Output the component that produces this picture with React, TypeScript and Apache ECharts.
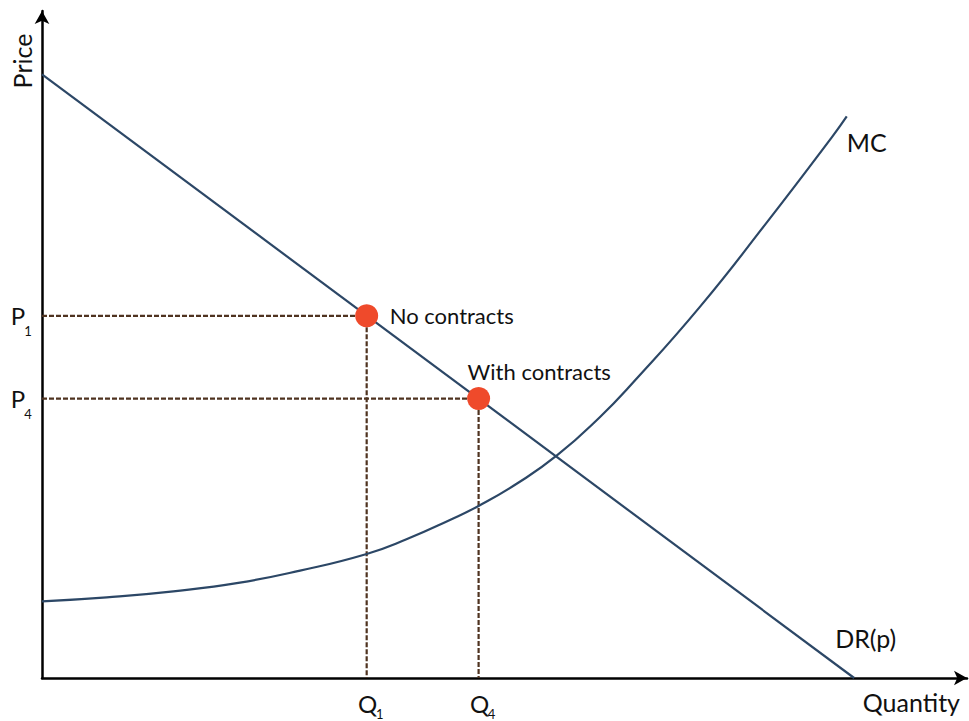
import React, { useEffect, useRef } from 'react';
import * as echarts from 'echarts';

// Axis extents (arbitrary units)
const quantityRange = [0, 100];
const priceRange = [0, 100];

// Demand curve DR(p): straight line between its two intercepts
const demandPoints: number[][] = [
  [0, 90.5],
  [87.8, 0],
];

// Marginal cost curve MC
const mcPoints: number[][] = [
  [0, 11.5], [7.0, 12.1], [14.2, 13.0], [21.4, 14.3], [27.9, 16.1],
  [35.1, 18.6], [39.4, 20.8], [44.1, 23.7], [47.2, 25.8], [51.4, 29.2],
  [55.7, 33.4], [60.3, 39.1], [63.9, 44.3], [71.1, 55.6], [78.3, 68.2],
  [85.4, 81.1], [87.0, 84.2],
];

// Market outcomes
const outcomeQuantities = [35.1, 47.2];
const outcomePrices = [54.3, 41.9];
const outcomeSubscripts = ['1', '4'];
const outcomeNames = ['No contracts', 'With contracts'];

const FONT = "Lato, 'Open Sans', sans-serif";
const CURVE_COLOR = '#2c4766';
const GUIDE_COLOR = '#4f3320';
const POINT_COLOR = '#ef4a2b';

export default function App() {
  const ref = useRef<HTMLDivElement>(null);

  useEffect(() => {
    if (!ref.current) return;
    const chart = echarts.init(ref.current, undefined, { renderer: 'svg' });

    const guideSeries = outcomeQuantities.map((q, i) => ({
      type: 'line',
      data: [[0, outcomePrices[i]], [q, outcomePrices[i]], [q, 0]],
      symbol: 'none',
      lineStyle: { color: GUIDE_COLOR, width: 2.2, type: [5, 2] },
      z: 2,
      silent: true,
    }));

    const axisLine = {
      show: true,
      onZero: false,
      symbol: ['none', 'arrow'],
      symbolSize: [11, 13],
      lineStyle: { color: '#000', width: 2.5 },
    };

    chart.setOption({
      animation: false,
      grid: { left: 42, right: 2, top: 11, bottom: 43 },
      xAxis: {
        type: 'value',
        min: quantityRange[0],
        max: quantityRange[1],
        axisLine,
        axisTick: { show: false },
        axisLabel: { show: false },
        splitLine: { show: false },
      },
      yAxis: {
        type: 'value',
        min: priceRange[0],
        max: priceRange[1],
        axisLine,
        axisTick: { show: false },
        axisLabel: { show: false },
        splitLine: { show: false },
      },
      series: [
        ...guideSeries,
        {
          type: 'line',
          name: 'DR(p)',
          data: demandPoints,
          symbol: 'none',
          lineStyle: { color: CURVE_COLOR, width: 2.2 },
          z: 3,
        },
        {
          type: 'line',
          name: 'MC',
          data: mcPoints,
          smooth: 0.5,
          symbol: 'none',
          lineStyle: { color: CURVE_COLOR, width: 2.2 },
          z: 3,
        },
        {
          type: 'scatter',
          data: outcomeQuantities.map((q, i) => [q, outcomePrices[i]]),
          symbolSize: 23,
          itemStyle: { color: POINT_COLOR, opacity: 1 },
          z: 5,
        },
      ],
    });

    const px = (v: number[]) => chart.convertToPixel({ gridIndex: 0 }, v) as number[];
    const origin = px([quantityRange[0], priceRange[0]]);
    const top = px([quantityRange[0], priceRange[1]]);
    const right = px([quantityRange[1], priceRange[0]]);

    const text = (x: number, y: number, t: string, size: number, align = 'left', extra: any = {}) => ({
      type: 'text',
      x,
      y,
      silent: true,
      ...extra,
      style: {
        text: t,
        fontFamily: FONT,
        fontSize: size,
        fill: '#111',
        align,
        verticalAlign: 'middle',
      },
    });

    const graphics: any[] = [];
    outcomeQuantities.forEach((q, i) => {
      const pt = px([q, outcomePrices[i]]);
      // price tick label with subscript
      graphics.push(text(origin[0] - 24, pt[1], 'P', 24, 'center'));
      graphics.push(text(origin[0] - 14, pt[1] + 15, outcomeSubscripts[i], 13, 'center'));
      // quantity tick label with subscript
      graphics.push(text(pt[0] + 1, origin[1] + 25, 'Q', 24, 'center'));
      graphics.push(text(pt[0] + 13, origin[1] + 36, outcomeSubscripts[i], 13, 'center'));
    });

    const p0 = px([outcomeQuantities[0], outcomePrices[0]]);
    const p1 = px([outcomeQuantities[1], outcomePrices[1]]);
    graphics.push(text(p0[0] + 23, p0[1], outcomeNames[0], 22));
    graphics.push(text(p1[0] - 11, p1[1] - 27, outcomeNames[1], 22));

    const mcEnd = px(mcPoints[mcPoints.length - 1]);
    graphics.push(text(mcEnd[0], mcEnd[1] + 26, 'MC', 25));
    const drEnd = px(demandPoints[demandPoints.length - 1]);
    graphics.push(text(drEnd[0] - 19, drEnd[1] - 40, 'DR(p)', 25));

    graphics.push(text(right[0] - 7, origin[1] + 24, 'Quantity', 25, 'right'));
    graphics.push(
      text(origin[0] - 20, top[1] + 50, 'Price', 25, 'center', { rotation: Math.PI / 2 })
    );

    chart.setOption({ graphic: graphics });

    return () => chart.dispose();
  }, []);

  return (
    <div
      ref={ref}
      style={{ position: 'fixed', left: 0, top: 0, width: 969, height: 721, background: '#fff' }}
    />
  );
}
